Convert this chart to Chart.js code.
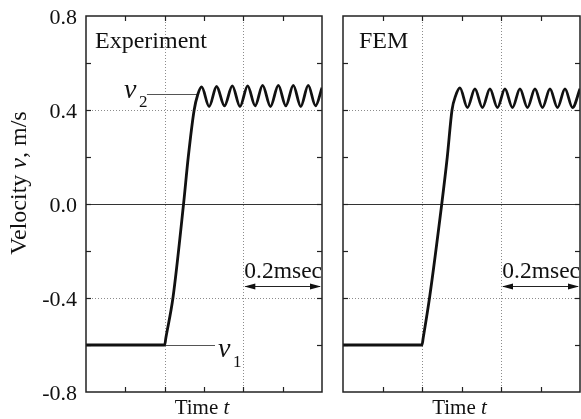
<!DOCTYPE html>
<html><head><meta charset="utf-8">
<script src="https://cdn.jsdelivr.net/npm/chart.js@4/dist/chart.umd.min.js"></script>
<style>
html,body{margin:0;padding:0;background:#fff;overflow:hidden}
#wrap{position:relative;width:581px;height:419px;background:#fff}
canvas{position:absolute;top:0}
#c1{left:0;width:330px;height:419px}
#c2{left:330px;width:251px;height:419px}
</style></head><body>
<div id="wrap"><canvas id="c1" width="330" height="419"></canvas><canvas id="c2" width="251" height="419"></canvas></div>
<script>
// ---- data (time in msec, velocity in m/s) ----
const expT = [0, 0.2, 0.203, 0.221, 0.248, 0.26, 0.275, 0.284, 0.294, 0.313, 0.332, 0.352, 0.372, 0.3915, 0.411, 0.430, 0.449, 0.469, 0.489, 0.508, 0.527, 0.546, 0.565, 0.5835, 0.6];
const expV = [-0.6, -0.6, -0.57, -0.4, 0, 0.2, 0.4, 0.465, 0.498, 0.415, 0.5, 0.418, 0.503, 0.415, 0.503, 0.418, 0.505, 0.415, 0.505, 0.418, 0.505, 0.415, 0.505, 0.418, 0.495];
const femT = [0, 0.2, 0.203, 0.219, 0.25, 0.264, 0.276, 0.285, 0.296, 0.315, 0.334, 0.353, 0.372, 0.391, 0.410, 0.429, 0.448, 0.467, 0.486, 0.505, 0.524, 0.543, 0.562, 0.581, 0.6];
const femV = [-0.6, -0.6, -0.57, -0.4, 0, 0.2, 0.4, 0.46, 0.494, 0.41, 0.49, 0.41, 0.49, 0.41, 0.49, 0.41, 0.49, 0.41, 0.49, 0.41, 0.49, 0.41, 0.49, 0.41, 0.49];
const yTickValues = [0.8, 0.4, 0, -0.4, -0.8];
const yTickLabels = ['0.8', '0.4', '0.0', '-0.4', '-0.8'];
const yTickMarks = [-0.6, -0.4, -0.2, 0, 0.2, 0.4, 0.6];
const xTickMarks = [0.1, 0.2, 0.3, 0.4, 0.5];
const yGridDotted = [0.4, -0.4];
const xGridDotted = [0.2, 0.4];
const panelLabels = ['Experiment', 'FEM'];
const spanLabel = '0.2msec';
const spanRange = [0.4, 0.6];
const spanLevel = -0.349;
const v2Level = 0.468, v2From = 0.155, v2To = 0.285;
const v1Level = -0.6, v1From = 0.2, v1To = 0.328;

const SERIF = '"Liberation Serif","Times New Roman",serif';
const INK = '#111';

function pts(t, v) { return t.map((x, i) => ({x: x, y: v[i]})); }

function line(ctx, x1, y1, x2, y2) { ctx.beginPath(); ctx.moveTo(x1, y1); ctx.lineTo(x2, y2); ctx.stroke(); }

function arrowHead(ctx, x, y, dir) {
  ctx.beginPath(); ctx.moveTo(x, y); ctx.lineTo(x - dir * 11, y - 3); ctx.lineTo(x - dir * 11, y + 3); ctx.closePath(); ctx.fill();
}

function makeDeco(idx) {
  return {
    id: 'deco' + idx,
    beforeDatasetsDraw(chart) {
      const {ctx, chartArea: a, scales: {x, y}} = chart;
      ctx.save();
      ctx.strokeStyle = '#8c8c8c'; ctx.lineWidth = 1; ctx.setLineDash([1, 2]);
      yGridDotted.forEach(v => { const p = Math.round(y.getPixelForValue(v)) + 0.5; line(ctx, a.left, p, a.right, p); });
      xGridDotted.forEach(t => { const p = Math.round(x.getPixelForValue(t)) + 0.5; line(ctx, p, a.top, p, a.bottom); });
      ctx.setLineDash([]);
      ctx.strokeStyle = '#333'; ctx.lineWidth = 1;
      const z = Math.round(y.getPixelForValue(0)) + 0.5; line(ctx, a.left, z, a.right, z);
      ctx.strokeStyle = '#222'; ctx.lineWidth = 1.2;
      yTickMarks.forEach(v => { const p = Math.round(y.getPixelForValue(v)) + 0.5; line(ctx, a.left, p, a.left + 5, p); line(ctx, a.right, p, a.right - 5, p); });
      xTickMarks.forEach(t => { const p = Math.round(x.getPixelForValue(t)) + 0.5; line(ctx, p, a.top, p, a.top + 5); line(ctx, p, a.bottom, p, a.bottom - 5); });
      // pointer lines
      ctx.strokeStyle = '#555'; ctx.lineWidth = 1;
      if (idx === 0) {
        const p2 = Math.round(y.getPixelForValue(v2Level)) + 0.5;
        line(ctx, x.getPixelForValue(v2From), p2, x.getPixelForValue(v2To), p2);
        const p1 = Math.round(y.getPixelForValue(v1Level)) + 0.5;
        line(ctx, x.getPixelForValue(v1From), p1, x.getPixelForValue(v1To), p1);
      }
      ctx.restore();
    },
    afterDatasetsDraw(chart) {
      const {ctx, chartArea: a, scales: {x, y}} = chart;
      ctx.save();
      // frame
      ctx.strokeStyle = '#222'; ctx.lineWidth = 1.5;
      ctx.strokeRect(a.left, a.top, a.right - a.left, a.bottom - a.top);
      ctx.fillStyle = INK;
      // panel label
      ctx.font = '24px ' + SERIF; ctx.textAlign = 'left'; ctx.textBaseline = 'alphabetic';
      ctx.fillText(panelLabels[idx], a.left + (idx === 0 ? 9 : 16), a.top + 32);
      // span arrow
      const sx1 = x.getPixelForValue(spanRange[0]), sx2 = x.getPixelForValue(spanRange[1]);
      const sy = Math.round(y.getPixelForValue(spanLevel)) + 0.5;
      ctx.strokeStyle = '#222'; ctx.lineWidth = 1;
      line(ctx, sx1 + 2, sy, sx2 - 2, sy);
      arrowHead(ctx, sx1 + 1, sy, -1); arrowHead(ctx, sx2 - 1, sy, 1);
      ctx.font = '23.5px ' + SERIF; ctx.textAlign = 'right';
      ctx.fillText(spanLabel, sx2, sy - 9);
      // x title
      ctx.textAlign = 'left';
      ctx.font = '21px ' + SERIF;
      const w1 = ctx.measureText('Time ').width;
      ctx.font = 'italic 21px ' + SERIF;
      const w2 = ctx.measureText('t').width;
      const cx = (a.left + a.right) / 2 - 2;
      const tx = cx - (w1 + w2) / 2;
      ctx.font = '21px ' + SERIF; ctx.fillText('Time ', tx, 414);
      ctx.font = 'italic 21px ' + SERIF; ctx.fillText('t', tx + w1, 414);
      if (idx === 0) {
        // y tick labels
        ctx.font = '22px ' + SERIF; ctx.textAlign = 'right';
        yTickValues.forEach((v, i) => { ctx.fillText(yTickLabels[i], a.left - 9, y.getPixelForValue(v) + 8); });
        // y title
        ctx.save();
        ctx.translate(26, 183); ctx.rotate(-Math.PI / 2);
        ctx.textAlign = 'left';
        const parts = [['Velocity ', ''], ['v', 'italic '], [', m/s', '']];
        let tot = 0; parts.forEach(p => { ctx.font = p[1] + '24px ' + SERIF; tot += ctx.measureText(p[0]).width; });
        let px = -tot / 2;
        parts.forEach(p => { ctx.font = p[1] + '24px ' + SERIF; ctx.fillText(p[0], px, 0); px += ctx.measureText(p[0]).width; });
        ctx.restore();
        // v2 label
        ctx.textAlign = 'left';
        const p2 = y.getPixelForValue(v2Level);
        const l2 = x.getPixelForValue(v2From);
        ctx.font = 'italic 28px ' + SERIF; ctx.fillText('v', l2 - 23, p2 + 4);
        ctx.font = '17px ' + SERIF; ctx.fillText('2', l2 - 8, p2 + 13);
        const p1 = y.getPixelForValue(v1Level);
        const l1 = x.getPixelForValue(v1To);
        ctx.font = 'italic 28px ' + SERIF; ctx.fillText('v', l1 + 3, p1 + 12);
        ctx.font = '17px ' + SERIF; ctx.fillText('1', l1 + 18, p1 + 22);
      }
      ctx.restore();
    }
  };
}

function makeChart(id, t, v, idx, yWidth, padRight) {
  return new Chart(document.getElementById(id), {
    type: 'line',
    data: { datasets: [{ data: pts(t, v), borderColor: INK, borderWidth: 2.8, pointRadius: 0, fill: false, cubicInterpolationMode: 'monotone' }] },
    options: {
      responsive: false, animation: false, devicePixelRatio: 1,
      layout: { padding: { left: 0, top: 16, right: padRight, bottom: 0 } },
      plugins: { legend: { display: false }, tooltip: { enabled: false } },
      scales: {
        x: { type: 'linear', min: 0, max: 0.6, grid: { display: false }, border: { display: false }, ticks: { display: false },
             afterFit(s) { s.height = 27; } },
        y: { type: 'linear', min: -0.8, max: 0.8, grid: { display: false }, border: { display: false }, ticks: { display: false },
             afterFit(s) { s.width = yWidth; } }
      }
    },
    plugins: [makeDeco(idx)]
  });
}

makeChart('c1', expT, expV, 0, 86, 8);
makeChart('c2', femT, femV, 1, 13, 1);
</script>
</body></html>
